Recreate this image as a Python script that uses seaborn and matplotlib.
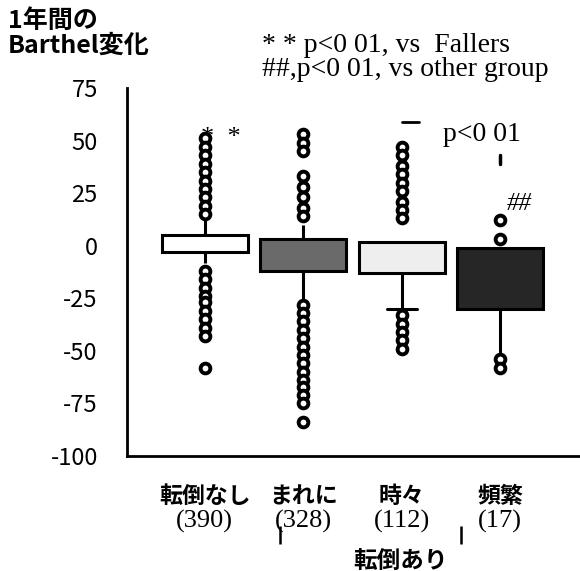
import matplotlib
matplotlib.use("Agg")
import matplotlib.pyplot as plt
import seaborn as sns
import pandas as pd
from matplotlib.transforms import blended_transform_factory

# Groups by fall frequency and number of subjects
categories = ["転倒なし", "まれに", "時々", "頻繁"]
counts = ["(390)", "(328)", "(112)", "(17)"]

# Box summaries (change in Barthel index over one year)
whisker_low = [-8, -26, -30, -51]
quartile_1 = [-3, -12, -13, -30]
medians = [1, -4, -5, -15]
quartile_3 = [5, 3, 2, -1]
whisker_high = [12, 10, 2, -1]

# Individual values beyond the whiskers
points_none = [51, 47, 43, 39, 35, 31, 27, 23, 19, 15,
               -12, -16, -20, -24, -27, -31, -35, -39, -43, -58]
points_rare = [53, 49, 45, 33, 28, 23, 18, 14,
               -28, -32, -36, -40, -44, -48, -52, -56, -60, -64, -67, -71, -75, -84]
points_some = [47, 43, 38, 34, 30, 26, 21, 17, 13,
               -33, -37, -41, -45, -49]
points_often = [12, 3, -54, -58]

box_colors = ["#ffffff", "#6a6a6a", "#eeeeee", "#262626"]

JP = ["Noto Sans CJK JP", "DejaVu Sans"]
SERIF = ["Liberation Serif", "DejaVu Serif"]

sns.set_style("white")
plt.rcParams["font.family"] = JP
plt.rcParams["text.color"] = "black"
plt.rcParams["xtick.color"] = "black"
plt.rcParams["ytick.color"] = "black"
plt.rcParams["axes.labelcolor"] = "black"

# Five-number rows per group; with whis=(0, 100) the whiskers reach min/max
box_rows = []
for i, cat in enumerate(categories):
    for v in (whisker_low[i], quartile_1[i], medians[i], quartile_3[i], whisker_high[i]):
        box_rows.append({"group": cat, "value": v})
box_df = pd.DataFrame(box_rows)

pt_rows = []
for cat, pts in zip(categories, [points_none, points_rare, points_some, points_often]):
    for v in pts:
        pt_rows.append({"group": cat, "value": v})
pt_df = pd.DataFrame(pt_rows)

fig = plt.figure(figsize=(5.8, 5.71), dpi=100)
ax = fig.add_axes([127 / 580, (571 - 456) / 571, 1 - 127 / 580, (456 - 88) / 571])

sns.boxplot(data=box_df, x="group", y="value", hue="group", order=categories,
            hue_order=categories, palette=box_colors, legend=False,
            whis=(0, 100), width=0.87, linecolor="black", linewidth=2.2,
            showfliers=False, capwidths=0.3,
            medianprops={"visible": False}, ax=ax)

# Only the lower whisker of the "時々" group carries a cap
for gi, cont in enumerate(ax.containers):
    caps = getattr(cont, "caps", [])
    for ci, cap in enumerate(caps):
        cap.set_visible(gi == 2 and ci == 0)

sns.stripplot(data=pt_df, x="group", y="value", order=categories, jitter=False,
              size=7.0, color="white", edgecolor="black", linewidth=2.8,
              zorder=4, ax=ax)

ax.set_xlim(-0.79, 3.81)
ax.set_ylim(-100, 75)
ax.set_xlabel("")
ax.set_ylabel("")

for side in ("top", "right"):
    ax.spines[side].set_visible(False)
for side in ("left", "bottom"):
    ax.spines[side].set_linewidth(2.0)
    ax.spines[side].set_color("black")

ax.set_yticks([75, 50, 25, 0, -25, -50, -75, -100])
ax.set_yticklabels(["75", "50", "25", "0", "-25", "-50", "-75", "-100"])
ax.set_yticks([62.5, 37.5, 12.5, -12.5, -37.5, -62.5, -87.5], minor=True)
ax.tick_params(axis="y", which="major", direction="out", length=4, width=1.5,
               pad=17, labelsize=17)
ax.tick_params(axis="y", which="minor", direction="out", length=2, width=1.2)
for lab in ax.get_yticklabels():
    lab.set_fontfamily(JP)

ax.set_xticks(range(len(categories)))
ax.set_xticklabels(categories, fontfamily=JP, fontweight="bold", fontsize=16.5)
ax.tick_params(axis="x", length=0, pad=21)

trans = blended_transform_factory(ax.transData, ax.transAxes)
for i, c in enumerate(counts):
    ax.text(i, -0.178, c, transform=trans, ha="center", va="center",
            fontfamily=SERIF, fontsize=19, clip_on=False)

# Bracket marking the faller groups
fallers_span = (0.76, 2.6)
for xb in fallers_span:
    ax.plot([xb, xb], [-0.19, -0.24], transform=trans, color="black",
            lw=1.8, clip_on=False, solid_capstyle="butt")
ax.text(1.99, -0.284, "転倒あり", transform=trans, ha="center", va="center",
        fontfamily=JP, fontweight="bold", fontsize=17, clip_on=False)

# Significance marks
ax.text(0.16, 51, "*  *", ha="center", va="center", fontfamily=SERIF, fontsize=19)
ax.text(3.19, 20, "##", ha="center", va="center", fontfamily=SERIF,
        fontstyle="italic", fontsize=18)
ax.text(2.81, 53, "p<0 01", ha="center", va="center", fontfamily=SERIF, fontsize=20)
bracket_level = 59
ax.plot([2.0, 2.18], [bracket_level, bracket_level], color="black", lw=2)
ax.plot([3.0, 3.0], [39, 43], color="black", lw=2.5)

# Axis title and legend notes
fig.text(8 / 580, 1 - 21 / 571, "1年間の", ha="left", va="center",
         fontfamily=JP, fontweight="bold", fontsize=18)
fig.text(8 / 580, 1 - 46 / 571, "Barthel変化", ha="left", va="center",
         fontfamily=JP, fontweight="bold", fontsize=18)
fig.text(262 / 580, 1 - 46 / 571, "* * p<0 01, vs  Fallers", ha="left", va="center",
         fontfamily=SERIF, fontsize=20)
fig.text(262 / 580, 1 - 69 / 571, "##,p<0 01, vs other group", ha="left", va="center",
         fontfamily=SERIF, fontsize=20)

fig.savefig("out.png", dpi=100, facecolor="white")
